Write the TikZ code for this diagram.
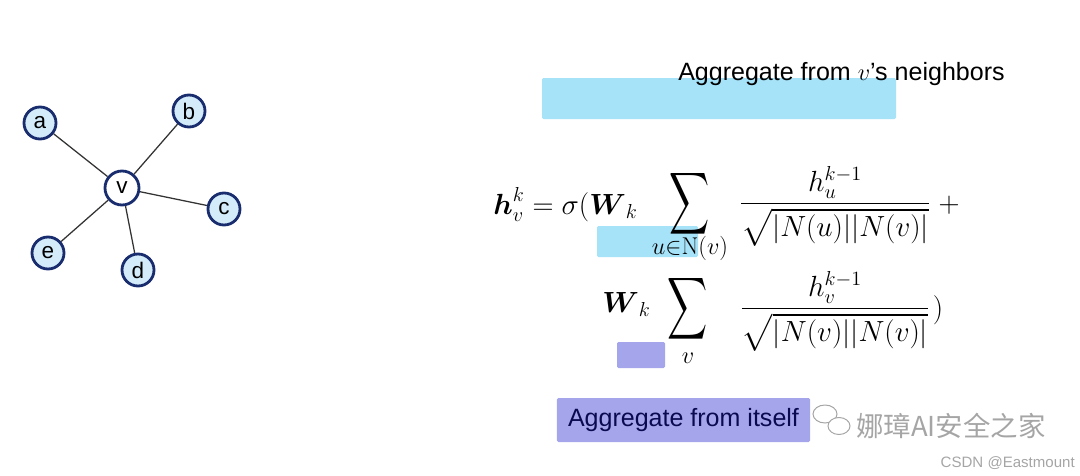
\documentclass[tikz,border=0pt]{standalone}
\usepackage{amsmath,amssymb,graphicx}
\usepackage[no-math]{fontspec}
\setmainfont{Liberation Sans}
\newfontfamily\cjk{Noto Sans CJK SC}
\usetikzlibrary{positioning}

\definecolor{nodefill}{RGB}{212,236,250}
\definecolor{nodeline}{RGB}{25,45,110}
\definecolor{aggblue}{RGB}{166,226,248}
\definecolor{aggpurple}{RGB}{165,165,235}
\definecolor{textnavy}{RGB}{10,10,80}
\definecolor{wmgray}{RGB}{165,165,165}

\begin{document}
\begin{tikzpicture}[x=0.025cm,y=-0.025cm,
  vert/.style={circle,draw=nodeline,line width=2pt,fill=nodefill,minimum size=0.8cm,inner sep=0pt,font=\fontsize{16}{16}\selectfont},
  hub/.style={vert,fill=white,minimum size=0.85cm},
  edge/.style={draw=black!80,line width=0.9pt},
  eqpart/.style={inner sep=0pt,font=\fontsize{22}{26}\selectfont},
  subpart/.style={inner sep=0pt,font=\fontsize{16}{18}\selectfont},
  label/.style={inner sep=0pt,font=\fontsize{17.8}{20}\selectfont},
  bar/.style={rounded corners=1pt}]
  \useasboundingbox (0,0) rectangle (1080,475);

  % graph around v
  \node[hub] (v) at (122,188) {v};
  \node[vert] (a) at (40,123) {a};
  \node[vert] (b) at (189,111) {b};
  \node[vert] (c) at (224,209) {c};
  \node[vert] (d) at (138,270) {d};
  \node[vert] (e) at (48,253) {e};
  \foreach \n in {a,b,c,d,e}
    \draw[edge] (v) -- (\n);

  % highlight bars
  \fill[aggblue,bar] (542,78) rectangle (896,119);
  \fill[aggblue,bar] (597,226) rectangle (698,257);
  \fill[aggpurple,bar] (617,342) rectangle (665,368);

  \node[label,anchor=base west] (nbr) at (678,80) {Aggregate from $v$’s neighbors};

  % first line of the update rule
  \node[eqpart,anchor=base west] (lhs) at (493,214) {$\boldsymbol{h}_v^k=\sigma(\boldsymbol{W}_k$};
  \node[eqpart] (sumA) at (690,204) {\scalebox{0.9}[1.4]{$\displaystyle\sum$}};
  \node[subpart,anchor=base] (subA) at (690,254) {$u{\in}\mathrm{N}(v)$};
  \node[eqpart,anchor=base] (fracA) at (835,211) {$\dfrac{h_u^{k-1}}{\sqrt{|N(u)||N(v)|}}$};
  \node[eqpart] (plus) at (949,205) {$+$};

  % second line: self term
  \node[eqpart,anchor=base west] (Wk) at (602,312) {$\boldsymbol{W}_k$};
  \node[eqpart] (sumB) at (688,309) {\scalebox{0.9}[1.4]{$\displaystyle\sum$}};
  \node[subpart,anchor=base] (subB) at (688,363) {$v$};
  \node[eqpart,anchor=base] (fracB) at (835,316) {$\dfrac{h_v^{k-1}}{\sqrt{|N(v)||N(v)|}}$};
  \node[eqpart] (close) at (938,310) {$)$};

  \node[label,fill=aggpurple,text=textnavy,minimum width=6.325cm,minimum height=1.1cm,rounded corners=1pt] (self) at (683.5,420) {Aggregate from itself};

  % watermark
  \draw[wmgray,line width=0.7pt,fill=white] (825,414) ellipse [x radius=12,y radius=9];
  \draw[wmgray,line width=0.7pt,fill=white] (839,426) ellipse [x radius=11,y radius=8.5];
  \node[anchor=base west,text=wmgray,inner sep=0pt,font=\cjk\fontsize{19.5}{21}\selectfont] (mark) at (856,436) {娜璋AI安全之家};
  \node[anchor=base east,text=wmgray,inner sep=0pt,font=\fontsize{10.7}{12}\selectfont] (csdn) at (1075,467) {CSDN @Eastmount};
\end{tikzpicture}
\end{document}
